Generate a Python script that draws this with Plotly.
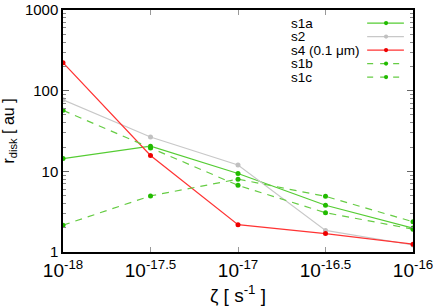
import numpy as np
import plotly.graph_objects as go

# x: log10 of zeta
log_zeta = [-18, -17.5, -17, -16.5, -16]
s1a = [14.4, 20.5, 9.4, 3.8, 1.98]
s2 = [77, 26.6, 12.0, 1.85, 1.22]
s4 = [222, 15.7, 2.18, 1.69, 1.25]
s1b = [2.15, 4.96, 8.0, 4.9, 2.37]
s1c = [57, 19.5, 6.7, 3.07, 1.92]

x_tick_exps = ["-18", "-17.5", "-17", "-16.5", "-16"]
y_major = [1, 10, 100, 1000]
y_minor = [m * 10 ** d for d in range(3) for m in range(2, 10)]

zeta = [10 ** v for v in log_zeta]

GREEN_L = "#55cc33"
GREEN_M = "#22bb00"
series = [
    ("s1a", s1a, GREEN_L, GREEN_M, "solid"),
    ("s2", s2, "#c8c8c8", "#c0c0c0", "solid"),
    ("s4 (0.1 μm)", s4, "#ff3333", "#ee0000", "solid"),
    ("s1b", s1b, "#66cc44", GREEN_M, "dash"),
    ("s1c", s1c, "#66cc44", GREEN_M, "dash"),
]

fig = go.Figure()
for name, ys, lc, mc, dash in series:
    fig.add_trace(go.Scatter(
        x=zeta, y=ys, mode="lines+markers", name=name,
        line=dict(color=lc, width=1.2, dash="7px,6px" if dash == "dash" else "solid"),
        marker=dict(color=mc, size=5),
        showlegend=False,
    ))

# invisible trace for minor y ticks axis
fig.add_trace(go.Scatter(x=[zeta[0]], y=[1], yaxis="y2", mode="markers",
                         marker=dict(opacity=0), showlegend=False, hoverinfo="skip"))

# manual gnuplot-style legend (text left, sample right)
leg_y0 = 0.946
leg_dy = 0.0558
for i, (name, ys, lc, mc, dash) in enumerate(series):
    yy = leg_y0 - i * leg_dy
    fig.add_annotation(xref="paper", yref="paper", x=0.646, y=yy, text=name,
                       showarrow=False, xanchor="left", yanchor="middle",
                       font=dict(family="Liberation Sans, Arial", size=13.5, color="black"))
    fig.add_shape(type="line", xref="paper", yref="paper", x0=0.869, x1=0.974, y0=yy, y1=yy,
                  line=dict(color=lc, width=1.2, dash="6px,7px" if dash == "dash" else "solid"))
    fig.add_shape(type="circle", xref="paper", yref="paper",
                  x0=0.923 - 0.006, x1=0.923 + 0.006, y0=yy - 0.0085, y1=yy + 0.0085,
                  fillcolor=mc, line=dict(width=0))

fig.update_layout(
    width=436, height=306,
    margin=dict(l=63, r=23, t=10, b=54),
    paper_bgcolor="white", plot_bgcolor="white",
    font=dict(family="Liberation Sans, Arial", color="black"),
    xaxis=dict(
        type="log", range=[-18, -16], automargin=False,
        tickvals=zeta, ticktext=["10<sup>%s</sup>" % e for e in x_tick_exps],
        ticks="inside", ticklen=5, tickcolor="#999999",
        showline=True, linecolor="black", linewidth=1.5, mirror="ticks",
        showgrid=False, zeroline=False,
        tickfont=dict(size=19),
        title=dict(text="ζ [ s<sup>-1</sup> ]", font=dict(size=19)),
    ),
    yaxis=dict(
        type="log", range=[0, 3], automargin=False,
        tickvals=y_major, ticktext=[str(v) for v in y_major],
        ticks="inside", ticklen=6, tickcolor="#666666",
        showline=True, linecolor="black", linewidth=1.5, mirror="ticks",
        showgrid=False, zeroline=False,
        tickfont=dict(size=15),
        title=dict(text="r<sub>disk</sub> [ au ]", font=dict(size=16)),
    ),
    yaxis2=dict(
        type="log", range=[0, 3], overlaying="y", side="left", automargin=False,
        tickvals=y_minor, showticklabels=False,
        ticks="inside", ticklen=3, tickcolor="#888888",
        showline=False, mirror="ticks", showgrid=False, zeroline=False,
    ),
)

fig.write_html("out.html", config={"displayModeBar": False},
               post_script="document.body.style.margin='0';document.body.style.padding='0';")
